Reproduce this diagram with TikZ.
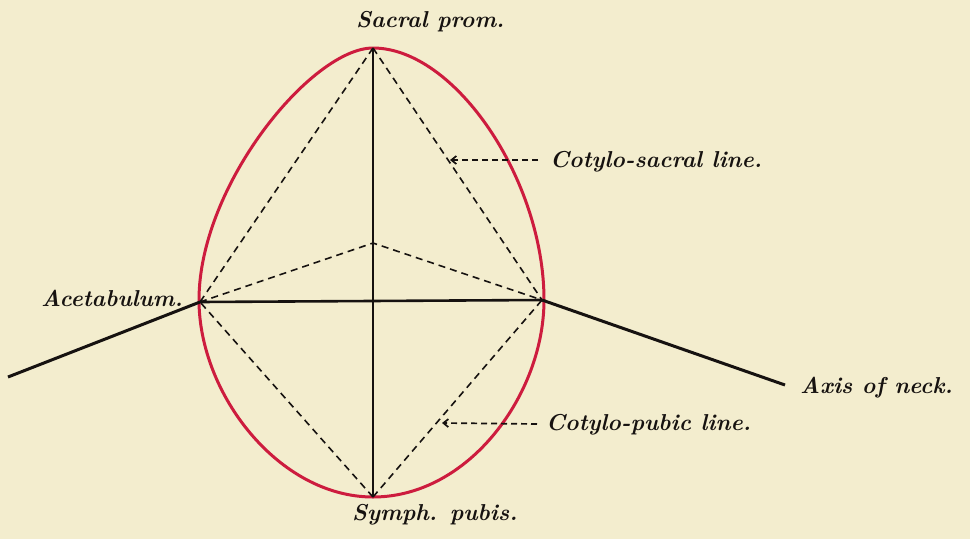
\documentclass[tikz,border=0pt]{standalone}
\usetikzlibrary{arrows.meta}
\definecolor{paper}{RGB}{243,237,206}
\definecolor{eggred}{RGB}{205,28,62}
\definecolor{ink}{RGB}{22,18,16}
\tikzset{
  lbl/.style={font=\fontsize{23}{26}\selectfont\itshape\bfseries, text=ink, inner sep=0pt},
  solidline/.style={draw=ink, line width=2.6pt},
  axisline/.style={draw=ink, line width=3pt},
  dashline/.style={draw=ink, line width=1.6pt, dash pattern=on 7pt off 5pt},
  leader/.style={draw=ink, line width=1.7pt, dash pattern=on 6pt off 4pt, -{Straight Barb[length=5pt,width=8pt]}},
  egg/.style={draw=eggred, line width=3pt}
}
\begin{document}
\begin{tikzpicture}[x=1pt,y=-1pt]
\fill[paper] (0,0) rectangle (970,539);
\useasboundingbox (0,0) rectangle (970,539);
% key points
\coordinate (top) at (373,48);
\coordinate (bot) at (373,497);
\coordinate (lft) at (200,302);
\coordinate (rgt) at (542,300);
\coordinate (mid) at (373,243);
\coordinate (lend) at (8,377);
\coordinate (rend) at (785,385);
\coordinate (cstip) at (450,160);
\coordinate (cptip) at (442,423);
% egg outline
\draw[egg] (top) .. controls (455,48) and (544,180) .. (544,300)
  .. controls (544,394) and (469,497) .. (bot)
  .. controls (279,497) and (199,394) .. (199,300)
  .. controls (199,185) and (312,48) .. (top) -- cycle;
% dashed lines
\draw[dashline] (top) -- (lft);
\draw[dashline] (top) -- (rgt);
\draw[dashline] (bot) -- (lft);
\draw[dashline] (bot) -- (rgt);
\draw[dashline] (lft) -- (mid) -- (rgt);
% solid lines
\draw[solidline] (top) -- (bot);
\draw[solidline] (lft) -- (rgt);
\draw[axisline] (lend) -- (lft);
\draw[axisline] (rgt) -- (rend);
% labels
\node[lbl, anchor=west] (sp) at (356,22) {Sacral prom.};
\node[lbl, anchor=west] (csl) at (550,162) {Cotylo-sacral line.};
\node[lbl, anchor=east] (ac) at (183,298) {Acetabulum.};
\node[lbl, anchor=west] (ax) at (800,388) {Axis of neck.};
\node[lbl, anchor=west] (cpl) at (546,425) {Cotylo-pubic line.};
\node[lbl, anchor=west] (syp) at (352,515) {Symph. pubis.};
% leaders
\coordinate (csend) at (538,160);
\coordinate (cpend) at (537,424);
\draw[leader] (csend) -- (cstip);
\draw[leader] (cpend) -- (cptip);
\end{tikzpicture}
\end{document}
